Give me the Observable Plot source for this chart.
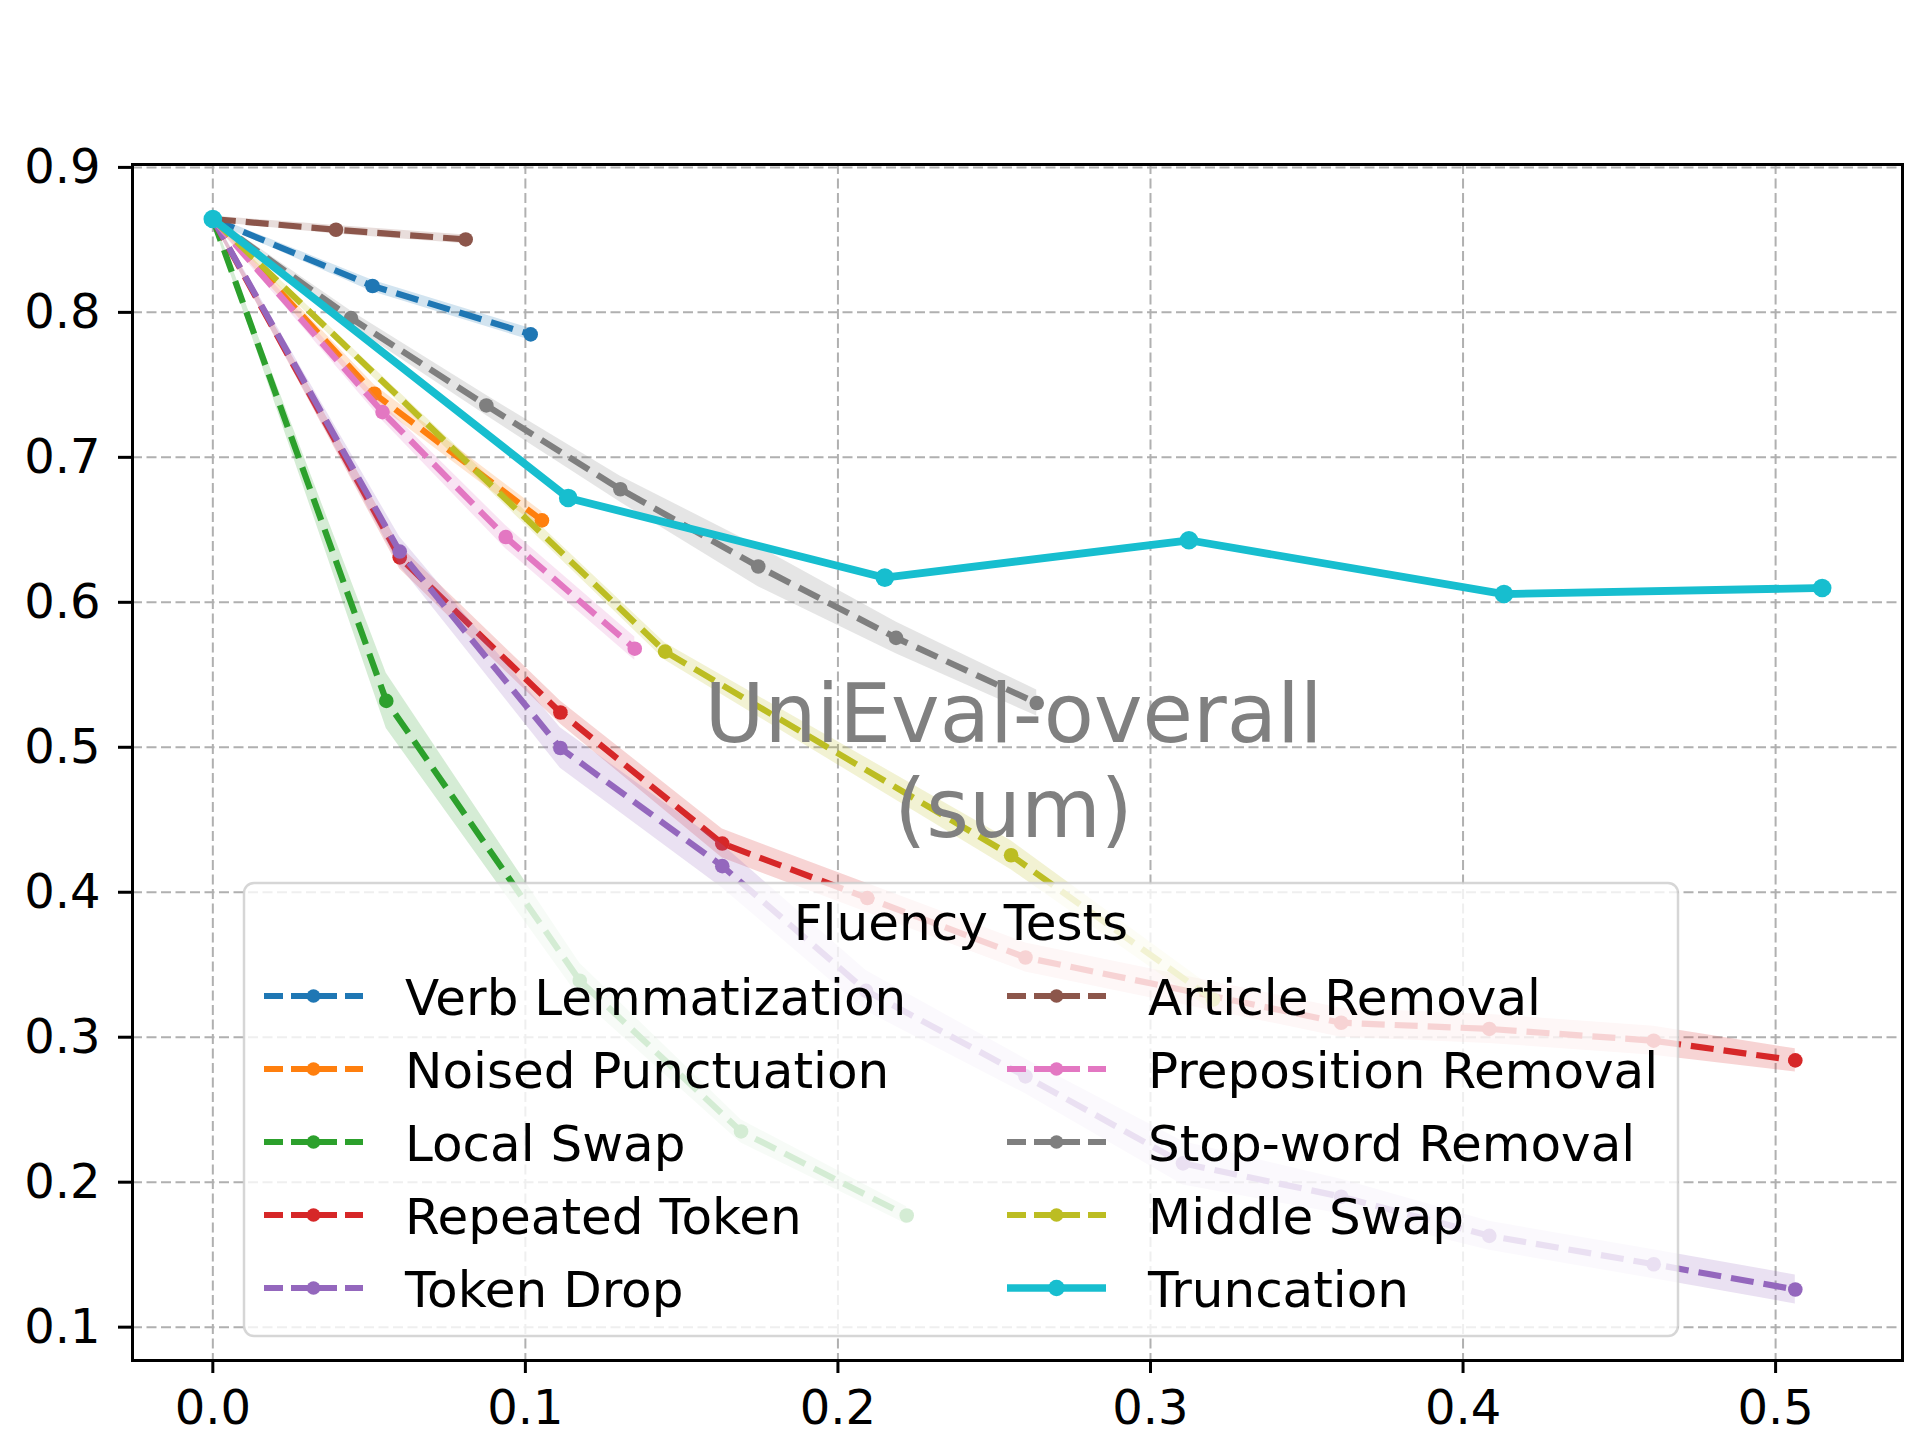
<!DOCTYPE html>
<html><head><meta charset="utf-8">
<script src="https://cdn.jsdelivr.net/npm/d3@7"></script>
<script src="https://cdn.jsdelivr.net/npm/@observablehq/plot@0.6"></script>
<style>html,body{margin:0;padding:0;background:#fff} svg{display:block}</style>
</head><body><div id="chart"></div>
<script>
// ---- data ----
const xTicks = [0, 0.1, 0.2, 0.3, 0.4, 0.5];
const yTicks = [0.1, 0.2, 0.3, 0.4, 0.5, 0.6, 0.7, 0.8, 0.9];

const names = ["Verb Lemmatization","Noised Punctuation","Local Swap","Repeated Token","Token Drop",
               "Article Removal","Preposition Removal","Stop-word Removal","Middle Swap","Truncation"];
const colors = ["#1f77b4","#ff7f0e","#2ca02c","#d62728","#9467bd","#8c564b","#e377c2","#7f7f7f","#bcbd22","#17becf"];
const solid = [false,false,false,false,false,false,false,false,false,true];

const verbX = [0, 0.0511, 0.1017];
const verbY = [0.8644, 0.8182, 0.7848];
const verbS = [0.002, 0.004, 0.004];

const punctX = [0, 0.0517, 0.1053];
const punctY = [0.8644, 0.7439, 0.6565];
const punctS = [0.002, 0.006, 0.006];

const localX = [0, 0.0555, 0.1174, 0.169, 0.222];
const localY = [0.8644, 0.532, 0.339, 0.235, 0.177];
const localS = [0.002, 0.019, 0.012, 0.008, 0.006];

const repX = [0, 0.0598, 0.1112, 0.1630, 0.2094, 0.260, 0.361, 0.4084, 0.461, 0.5063];
const repY = [0.8644, 0.631, 0.524, 0.4336, 0.396, 0.355, 0.310, 0.3057, 0.2976, 0.284];
const repS = [0.002, 0.008, 0.008, 0.010, 0.010, 0.010, 0.010, 0.010, 0.010, 0.008];

const dropX = [0, 0.0598, 0.1112, 0.1630, 0.209, 0.260, 0.3104, 0.361, 0.4084, 0.461, 0.5063];
const dropY = [0.8644, 0.635, 0.4995, 0.418, 0.332, 0.273, 0.213, 0.190, 0.163, 0.1434, 0.126];
const dropS = [0.002, 0.010, 0.014, 0.015, 0.014, 0.012, 0.015, 0.012, 0.010, 0.010, 0.010];

const artX = [0, 0.0394, 0.0809];
const artY = [0.8644, 0.857, 0.8503];
const artS = [0.002, 0.003, 0.003];

const prepX = [0, 0.0543, 0.0937, 0.135];
const prepY = [0.8644, 0.7312, 0.645, 0.568];
const prepS = [0.002, 0.006, 0.008, 0.008];

const stopX = [0, 0.0442, 0.0875, 0.1304, 0.1745, 0.2186, 0.2636];
const stopY = [0.8644, 0.796, 0.7358, 0.678, 0.6247, 0.5755, 0.5305];
const stopS = [0.002, 0.005, 0.007, 0.009, 0.014, 0.011, 0.009];

const midX = [0, 0.1447, 0.2554, 0.320];
const midY = [0.8644, 0.566, 0.4255, 0.326];
const midS = [0.002, 0.006, 0.010, 0.008];

const truncX = [0, 0.1137, 0.215, 0.3123, 0.4131, 0.5149];
const truncY = [0.8644, 0.672, 0.617, 0.6428, 0.6057, 0.6099];
const truncS = [0.001, 0.001, 0.001, 0.001, 0.001, 0.001];

const allX = [verbX, punctX, localX, repX, dropX, artX, prepX, stopX, midX, truncX];
const allY = [verbY, punctY, localY, repY, dropY, artY, prepY, stopY, midY, truncY];
const allS = [verbS, punctS, localS, repS, dropS, artS, prepS, stopS, midS, truncS];

const series = names.map((name, i) => ({
  name, color: colors[i], solid: solid[i],
  rows: allX[i].map((x, j) => ({name, x, y: allY[i][j], s: allS[i][j]}))
}));

// ---- chart ----
const FONT = "DejaVu Sans";
const gridStyle = {stroke: "#b0b0b0", strokeOpacity: 1, strokeWidth: 2, strokeDasharray: "10,4.5"};
const marks = [
  Plot.gridX(xTicks, gridStyle),
  Plot.gridY(yTicks, gridStyle)
];
for (const s of series) {
  marks.push(Plot.areaY(s.rows, {x: "x", y1: d => d.y - d.s, y2: d => d.y + d.s, fill: s.color, fillOpacity: 0.2}));
  marks.push(Plot.line(s.rows, {
    x: "x", y: "y", stroke: s.color,
    strokeWidth: s.solid ? 7.8 : 6.2,
    strokeDasharray: s.solid ? null : "23,10",
    strokeLinecap: s.solid ? "square" : "butt",
    strokeLinejoin: "round"
  }));
  marks.push(Plot.dot(s.rows, {x: "x", y: "y", r: s.solid ? 9.3 : 7.3, fill: s.color, stroke: null}));
}
marks.push(Plot.text(["UniEval-overall\n(sum)"], {
  text: d => d, frameAnchor: "middle", fontSize: 82, fill: "#808080", lineHeight: 1.16, dx: -4, dy: -3
}));
marks.push(Plot.axisX(xTicks, {tickSize: 13, tickPadding: 16, fontSize: 48, strokeWidth: 3, tickFormat: d => d.toFixed(1), label: null}));
marks.push(Plot.axisY(yTicks, {tickSize: 14, tickPadding: 18, fontSize: 48, strokeWidth: 3, tickFormat: d => d.toFixed(1), label: null}));
marks.push(Plot.frame({stroke: "black", strokeWidth: 3}));

const plot = Plot.plot({
  width: 1920, height: 1440,
  marginLeft: 132, marginRight: 18, marginTop: 164, marginBottom: 80,
  style: {fontFamily: FONT, background: "white", color: "black"},
  x: {domain: [-0.0257, 0.5406], label: null},
  y: {domain: [0.077, 0.902], label: null},
  marks
});

// ---- legend (drawn on top inside the plot area) ----
const svg = d3.select(plot);
const lg = svg.append("g").attr("font-family", FONT).attr("text-anchor", "start");
lg.append("rect").attr("x", 244).attr("y", 883).attr("width", 1434).attr("height", 453)
  .attr("rx", 10).attr("ry", 10)
  .attr("fill", "white").attr("fill-opacity", 0.8)
  .attr("stroke", "#cccccc").attr("stroke-opacity", 0.8).attr("stroke-width", 2.5);
lg.append("text").attr("x", 961).attr("y", 940).attr("text-anchor", "middle")
  .attr("font-size", 50).attr("fill", "black").text("Fluency Tests");
const cols = [{hx: 264, tx: 405}, {hx: 1007, tx: 1148}];
series.forEach((s, i) => {
  const c = cols[Math.floor(i / 5)];
  const row = i % 5;
  const cy = 996 + row * 73;
  lg.append("line").attr("x1", c.hx).attr("x2", c.hx + 99).attr("y1", cy).attr("y2", cy)
    .attr("stroke", s.color).attr("stroke-width", s.solid ? 7.5 : 5.8)
    .attr("stroke-dasharray", s.solid ? null : "19,8");
  lg.append("circle").attr("cx", c.hx + 49.5).attr("cy", cy).attr("r", s.solid ? 8.3 : 6.8).attr("fill", s.color);
  lg.append("text").attr("x", c.tx).attr("y", cy + 19).attr("text-anchor", "start")
    .attr("font-size", 50).attr("fill", "black").text(s.name);
});

document.getElementById("chart").appendChild(plot);
</script>
</body></html>
